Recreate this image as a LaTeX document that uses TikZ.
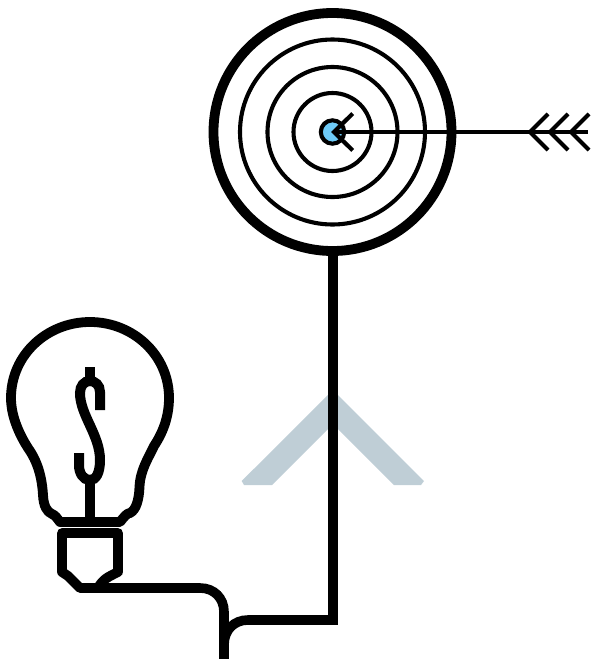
\documentclass[tikz,border=0pt]{standalone}
\tikzset{
  heavy/.style={line width=9.8pt,line join=round},
  ring/.style={line width=4.1pt},
  thinline/.style={line width=4.1pt},
  wire/.style={line width=9.6pt}
}
\definecolor{chevron}{HTML}{BFCED6}
\definecolor{bull}{HTML}{6ECBF8}
\begin{document}
\begin{tikzpicture}[x=1pt,y=-1pt]
\useasboundingbox (0,0) rectangle (593,659);
% pale chevron
\fill[chevron] (241.7,481) -- (244,485) -- (272,485) -- (333,424) -- (394,485) -- (421,485) -- (424,481) -- (333,390) -- cycle;
% target
\coordinate (target) at (332.5,132);
\draw[heavy] (target) circle[radius=119];
\draw[ring] (target) circle[radius=92.5];
\draw[ring] (target) circle[radius=65];
\draw[ring] (target) circle[radius=39];
\filldraw[ring,fill=bull] (target) circle[radius=11.7];
% arrow
\coordinate (tip) at (334,132);
\coordinate (tail) at (588,132);
\draw[thinline] (tip) -- (tail);
\draw[thinline] (352.7,113.5) -- (tip) -- (352.7,150.5);
\foreach \x in {530,550,571}{
  \draw[thinline] (\x+18,114) -- (\x,132) -- (\x+18,150);
}
% wires
\coordinate (wireA) at (333,250);
\coordinate (wireB) at (224,659);
\draw[wire] (wireA) -- (333,620) -- (248,620) .. controls (234,620) and (224,630) .. (224,645) -- (wireB);
\draw[wire] (80,588) -- (200,588) .. controls (214,588) and (224,598) .. (224,612) -- (wireB);
% bulb
\draw[heavy] (60,522) -- (120,522)
  .. controls (124,517) and (127,513) .. (130,513)
  .. controls (136,510) and (139,500) .. (139.5,487)
  .. controls (140,470) and (150,455) .. (154,446)
  .. controls (164,431) and (169,415) .. (169,398)
  .. controls (169,355) and (133,322) .. (90,322)
  .. controls (47,322) and (11,355) .. (11,398)
  .. controls (11,418) and (21,437) .. (28,448)
  .. controls (38,462) and (42,478) .. (43,495)
  .. controls (43.5,506) and (47,512) .. (52,514)
  .. controls (55,515) and (57,518) .. (60,522) -- cycle;
% base
\draw[heavy] (98,588) .. controls (103,579) and (108,577) .. (118,572) -- (118,533) -- (62,533) -- (62,572) -- (68,576) -- (80,588) -- cycle;
% dollar
\draw[line width=10pt] (90,367) -- (90,383);
\draw[line width=10pt] (90,479) -- (90,522);
\draw[line width=10pt] (100,410) -- (100,392)
  .. controls (100,385) and (95,381) .. (90,381)
  .. controls (84,381) and (80,386) .. (80,393)
  .. controls (80,415) and (100,435) .. (100,460)
  .. controls (100,473) and (96,480) .. (90,480)
  .. controls (83,480) and (79,473) .. (79,465) -- (79,453);
\end{tikzpicture}
\end{document}
